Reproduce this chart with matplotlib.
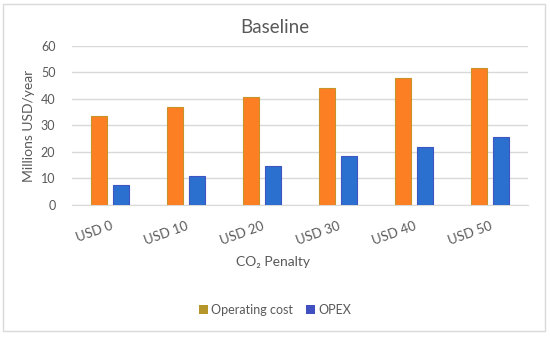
import numpy as np
import matplotlib.pyplot as plt
from matplotlib.patches import Patch, Rectangle
from matplotlib.transforms import ScaledTranslation

plt.rcParams['font.family'] = ['Lato', 'DejaVu Sans']

# ---------------- data ----------------
categories = ['USD 0', 'USD 10', 'USD 20', 'USD 30', 'USD 40', 'USD 50']
operating_cost = [33.4, 37.0, 40.7, 44.3, 48.0, 51.6]
opex = [7.4, 11.1, 14.7, 18.3, 22.0, 25.6]
y_ticks = [0, 10, 20, 30, 40, 50, 60]

grey_txt = '#595959'
grid_col = '#D9D9D9'

fig = plt.figure(figsize=(5.5, 3.37), dpi=100)
ax = fig.add_axes([0.131, 0.392, 0.829, 0.4715])

x = np.arange(len(categories))
w = 0.22
ax.bar(x - 0.145, operating_cost, w, color='#FD7F23', edgecolor='#C8922A', linewidth=0.8, zorder=3)
ax.bar(x + 0.145, opex, w, color='#2B6FCF', edgecolor='#3F55C2', linewidth=0.8, zorder=3)

ax.set_xlim(-0.5, len(categories) - 0.5)
ax.set_ylim(0, 60)
ax.set_yticks(y_ticks)
ax.yaxis.grid(True, color=grid_col, linewidth=1, zorder=0)
ax.set_axisbelow(True)
for s in ['top', 'right', 'left']:
    ax.spines[s].set_visible(False)
ax.spines['bottom'].set_color(grid_col)
ax.tick_params(axis='both', length=0, colors=grey_txt, labelsize=9)
ax.tick_params(axis='y', pad=12)

ax.set_xticks(x)
ax.set_xticklabels(categories, rotation=20, ha='right', rotation_mode='anchor', fontsize=9.5)
for lbl in ax.get_xticklabels():
    lbl.set_transform(lbl.get_transform() + ScaledTranslation(0.0, -0.1, fig.dpi_scale_trans))

ax.set_ylabel('Millions USD/year', color=grey_txt, fontsize=10, labelpad=4)
fig.text(0.5, 0.917, 'Baseline', ha='center', va='center', color=grey_txt, fontsize=13.5)
fig.text(0.497, 0.222, 'CO₂ Penalty', ha='center', va='center', color=grey_txt, fontsize=10)

handles = [Patch(facecolor='#B5962A', label='Operating cost'),
           Patch(facecolor='#4150C0', label='OPEX')]
fig.legend(handles=handles, loc='center', bbox_to_anchor=(0.5, 0.08), ncol=2, frameon=False,
           fontsize=9, labelcolor=grey_txt, handlelength=0.7, handleheight=0.7,
           handletextpad=0.3, columnspacing=1.0)

fig.patches.append(Rectangle((3 / 550, 1 - 331 / 337), 542 / 550, 327 / 337,
                             transform=fig.transFigure, fill=False, edgecolor=grid_col, linewidth=1))

fig.savefig('out.png', dpi=100)
